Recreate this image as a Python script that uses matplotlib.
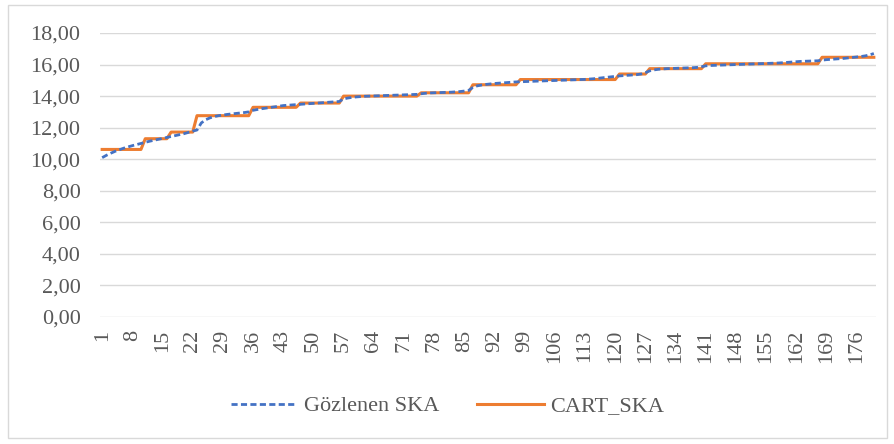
import numpy as np
import matplotlib.pyplot as plt
from matplotlib.ticker import FuncFormatter
from matplotlib.patches import Rectangle

gozlenen = [10.10, 10.25, 10.38, 10.50, 10.60, 10.70, 10.78, 10.86, 10.93, 11.00,
            11.07, 11.14, 11.20, 11.26, 11.32, 11.38,
            11.44, 11.50, 11.56, 11.62, 11.70, 11.78, 11.85,
            12.30, 12.50, 12.62, 12.70, 12.76, 12.80, 12.84, 12.87, 12.90, 12.93, 12.96, 13.00,
            13.10, 13.15, 13.20, 13.24, 13.28, 13.32, 13.36, 13.40, 13.42, 13.44, 13.46,
            13.48, 13.50, 13.52, 13.54, 13.56, 13.58, 13.60, 13.62, 13.64, 13.66,
            13.82, 13.88, 13.92, 13.95, 13.97, 13.99, 14.00, 14.01, 14.02, 14.03, 14.04, 14.05,
            14.06, 14.07, 14.08, 14.09, 14.10, 14.11,
            14.15, 14.18, 14.20, 14.21, 14.22, 14.23, 14.24, 14.25, 14.27, 14.29, 14.32, 14.36,
            14.55, 14.65, 14.70, 14.74, 14.77, 14.80, 14.82, 14.84, 14.86, 14.88, 14.90,
            14.91, 14.92, 14.93, 14.94, 14.95, 14.96, 14.97, 14.98, 14.99, 15.00, 15.01, 15.02,
            15.03, 15.04, 15.05, 15.06, 15.08, 15.10, 15.13, 15.16, 15.19, 15.22, 15.25,
            15.28, 15.30, 15.32, 15.34, 15.36, 15.40, 15.48,
            15.60, 15.66, 15.70, 15.72, 15.74, 15.75, 15.76, 15.77, 15.78, 15.79, 15.80, 15.82, 15.86,
            15.92, 15.94, 15.95, 15.96, 15.97, 15.98, 15.99, 16.00, 16.01, 16.02, 16.03, 16.04,
            16.05, 16.06, 16.07, 16.08, 16.09, 16.10, 16.12, 16.14, 16.16, 16.18, 16.20, 16.21,
            16.22, 16.23, 16.24,
            16.28, 16.31, 16.33, 16.35, 16.37, 16.39, 16.42, 16.45, 16.48, 16.51, 16.55, 16.61, 16.70]

# CART predictions: leaf values and how many points fall in each leaf
cart_levels = [10.62, 11.30, 11.72, 12.76, 13.29, 13.56, 14.00, 14.21, 14.72, 15.05,
               15.40, 15.74, 16.05, 16.46]
cart_counts = [10, 6, 6, 13, 11, 10, 18, 12, 11, 23, 7, 13, 27, 13]
cart_ska = np.repeat(cart_levels, cart_counts)

x = np.arange(1, len(gozlenen) + 1)
x_ticks = np.arange(1, 177, 7)

plt.rcParams['font.family'] = ['Liberation Serif', 'DejaVu Serif']
grey = '#595959'
fs = 16

fig = plt.figure(figsize=(8.95, 4.44), dpi=100)
ax = fig.add_axes([100 / 895, 1 - 317 / 444, 776 / 895, 284 / 444])

ax.plot(x, gozlenen, color='#4472C4', linewidth=2.0, linestyle=(0, (2.2, 1.2)),
        label='Gözlenen SKA', zorder=3)
ax.plot(x, cart_ska, color='#ED7D31', linewidth=2.2, label='CART_SKA', zorder=2)

ax.set_xlim(0.5, len(gozlenen) + 0.5)
ax.set_ylim(0, 18)
ax.set_yticks(np.arange(0, 19, 2))
ax.yaxis.set_major_formatter(FuncFormatter(lambda v, p: f'{v:.2f}'.replace('.', ',')))
ax.set_xticks(x_ticks)
ax.set_xticklabels([str(t) for t in x_ticks], rotation=90)

ax.grid(axis='y', color='#d9d9d9', linewidth=1.0)
ax.set_axisbelow(True)
for s in ax.spines.values():
    s.set_visible(False)
ax.tick_params(axis='both', length=0, labelsize=fs, colors=grey)
ax.tick_params(axis='y', pad=14)
ax.tick_params(axis='x', pad=9)

leg = fig.legend(loc='center', bbox_to_anchor=(0.5, 1 - 406 / 444), ncol=2,
                 frameon=False, fontsize=fs, handlelength=3.0, columnspacing=1.7,
                 handletextpad=0.3)
for t in leg.get_texts():
    t.set_color(grey)

fig.patches.append(Rectangle((8 / 895, 1 - 438 / 444), 879 / 895, 433 / 444,
                             transform=fig.transFigure, fill=False,
                             edgecolor='#d9d9d9', linewidth=1.0))

fig.savefig('out.png', dpi=100)
